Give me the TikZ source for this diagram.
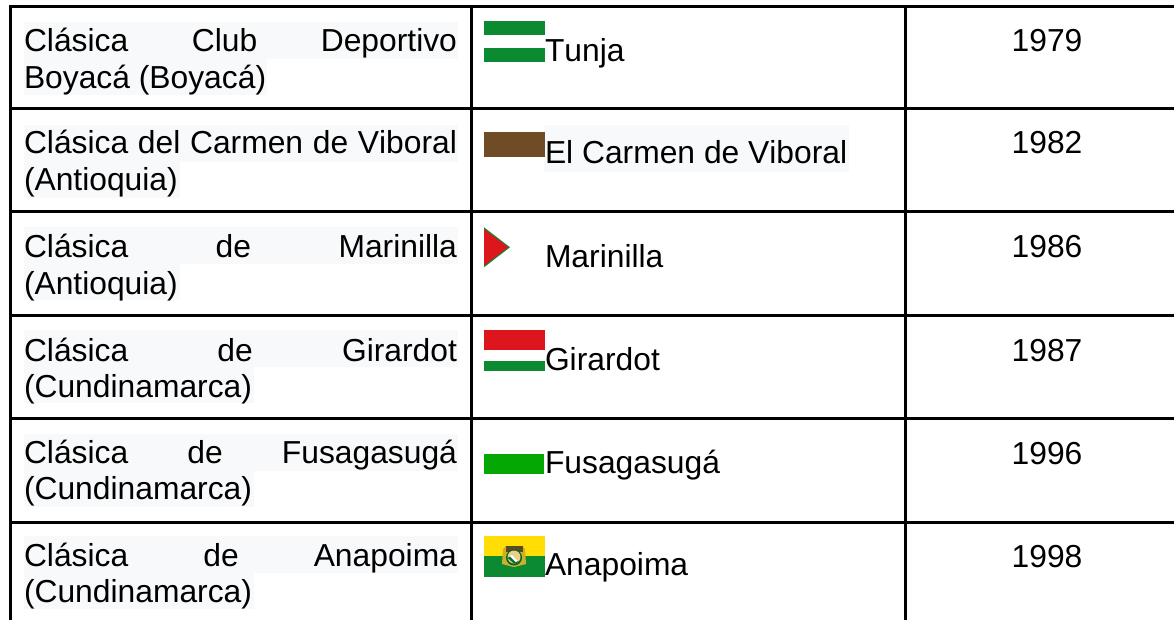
\documentclass[tikz,border=0pt]{standalone}
\usepackage{fontspec}
\setmainfont[Kerning=Off]{Liberation Sans}
\definecolor{bgtxt}{HTML}{F8F9FA}
\definecolor{fgreen}{HTML}{0B8A32}
\definecolor{fbrown}{HTML}{6F4C25}
\definecolor{fred}{HTML}{DC161C}
\definecolor{flime}{HTML}{05A802}
\definecolor{fyellow}{HTML}{FFDD05}
\definecolor{crestdark}{HTML}{5A4A1E}
\definecolor{crestgold}{HTML}{C9B22A}
\definecolor{crestsand}{HTML}{E8D08A}
\newcommand{\celltwo}[2]{\vtop{\hsize=433pt \parindent=0pt \baselineskip=36.4pt \makebox[433pt][s]{#1}\par \mbox{#2}}}
\tikzset{
  rule/.style={line width=3pt,black},
  celltext/.style={anchor=base west,inner sep=0pt,outer sep=0pt,font=\fontsize{31.8}{36.4}\selectfont},
  yeartext/.style={anchor=base,inner sep=0pt,outer sep=0pt,font=\fontsize{31.8}{36.4}\selectfont},
  shade box/.style={fill=bgtxt,draw=none}
}
\begin{document}
\begin{tikzpicture}[x=1pt,y=-1pt]
\useasboundingbox (0,0) rectangle (1174,620);
\fill[white] (0,0) rectangle (1174,620);
% text backgrounds
\foreach \t/\wa/\wb in {22/458/267,125/458/180,227/458/180,330/458/254,434/458/254,536/458/254}{
  \fill[shade box] (24,\t) rectangle (\wa,\t+37);
  \fill[shade box] (24,\t+36.5) rectangle (\wb,\t+73);
}
\fill[shade box] (544,125) rectangle (849,172);
% rules
\coordinate (tl) at (10.7,6.5);
\coordinate (tr) at (1174,6.5);
\coordinate (bl) at (10.7,620);
\coordinate (m1) at (471,6.5);
\coordinate (m1b) at (471,620);
\coordinate (m2) at (905,6.5);
\coordinate (m2b) at (905,620);
\draw[rule] (9.2,6.5) -- (tr);
\draw[rule,line width=3.4pt] (tl) -- (bl);
\draw[rule] (m1) -- (m1b);
\draw[rule] (m2) -- (m2b);
\foreach \y in {109,212,315,418,522}{
  \draw[rule] (9.2,\y) -- (1174,\y);
}
% flags
\fill[fgreen] (484,21) rectangle (545,35);
\fill[fgreen] (484,48) rectangle (545,62);
\fill[fbrown] (484,132) rectangle (545,157);
\fill[fgreen] (484,227.3) -- (510,247.3) -- (484,267.3) -- cycle;
\fill[fred] (484,229) -- (508.3,247.3) -- (484,265.6) -- cycle;
\fill[fred] (484,330) rectangle (545,350);
\fill[fgreen] (484,361) rectangle (545,371);
\fill[flime] (484,454) rectangle (544,474);
\fill[fyellow] (484,536) rectangle (545,556);
\fill[fgreen] (484,556) rectangle (545,577);
% crest
\fill[crestgold] (503,549) -- (506,546) -- (522,546) -- (525,549) -- (526,564) -- (514,567) -- (502,564) -- cycle;
\fill[crestdark] (505.5,546) rectangle (522.5,551.5);
\fill[fgreen!70!black] (514,557.5) circle (8);
\fill[crestsand] (514,557) circle (6.5);
\fill[fgreen!80!black] (507.5,558) -- (512,555.5) -- (519,562) -- (514,563.5) -- cycle;
\fill[white] (509.5,556) -- (512,555) -- (518,561) -- (515.5,562) -- cycle;
% text
\node[celltext] (a1) at (24,52) {\celltwo{Clásica Club Deportivo}{Boyacá (Boyacá)}};
\node[celltext] (a2) at (24,154) {\celltwo{Clásica del Carmen de Viboral}{(Antioquia)}};
\node[celltext] (a3) at (24,258) {\celltwo{Clásica de Marinilla}{(Antioquia)}};
\node[celltext] (a4) at (24,361) {\celltwo{Clásica de Girardot}{(Cundinamarca)}};
\node[celltext] (a5) at (24,463.5) {\celltwo{Clásica de Fusagasugá}{(Cundinamarca)}};
\node[celltext] (a6) at (24,566.5) {\celltwo{Clásica de Anapoima}{(Cundinamarca)}};
\node[celltext] (b1) at (545,62) {Tunja};
\node[celltext] (b2) at (545,164) {El Carmen de Viboral};
\node[celltext] (b3) at (545,267) {Marinilla};
\node[celltext] (b4) at (545,370) {Girardot};
\node[celltext] (b5) at (545,473) {Fusagasugá};
\node[celltext] (b6) at (545,575) {Anapoima};
\node[yeartext] (c1) at (1047,52) {1979};
\node[yeartext] (c2) at (1047,154) {1982};
\node[yeartext] (c3) at (1047,258) {1986};
\node[yeartext] (c4) at (1047,361) {1987};
\node[yeartext] (c5) at (1047,464) {1996};
\node[yeartext] (c6) at (1047,567) {1998};
\end{tikzpicture}
\end{document}
